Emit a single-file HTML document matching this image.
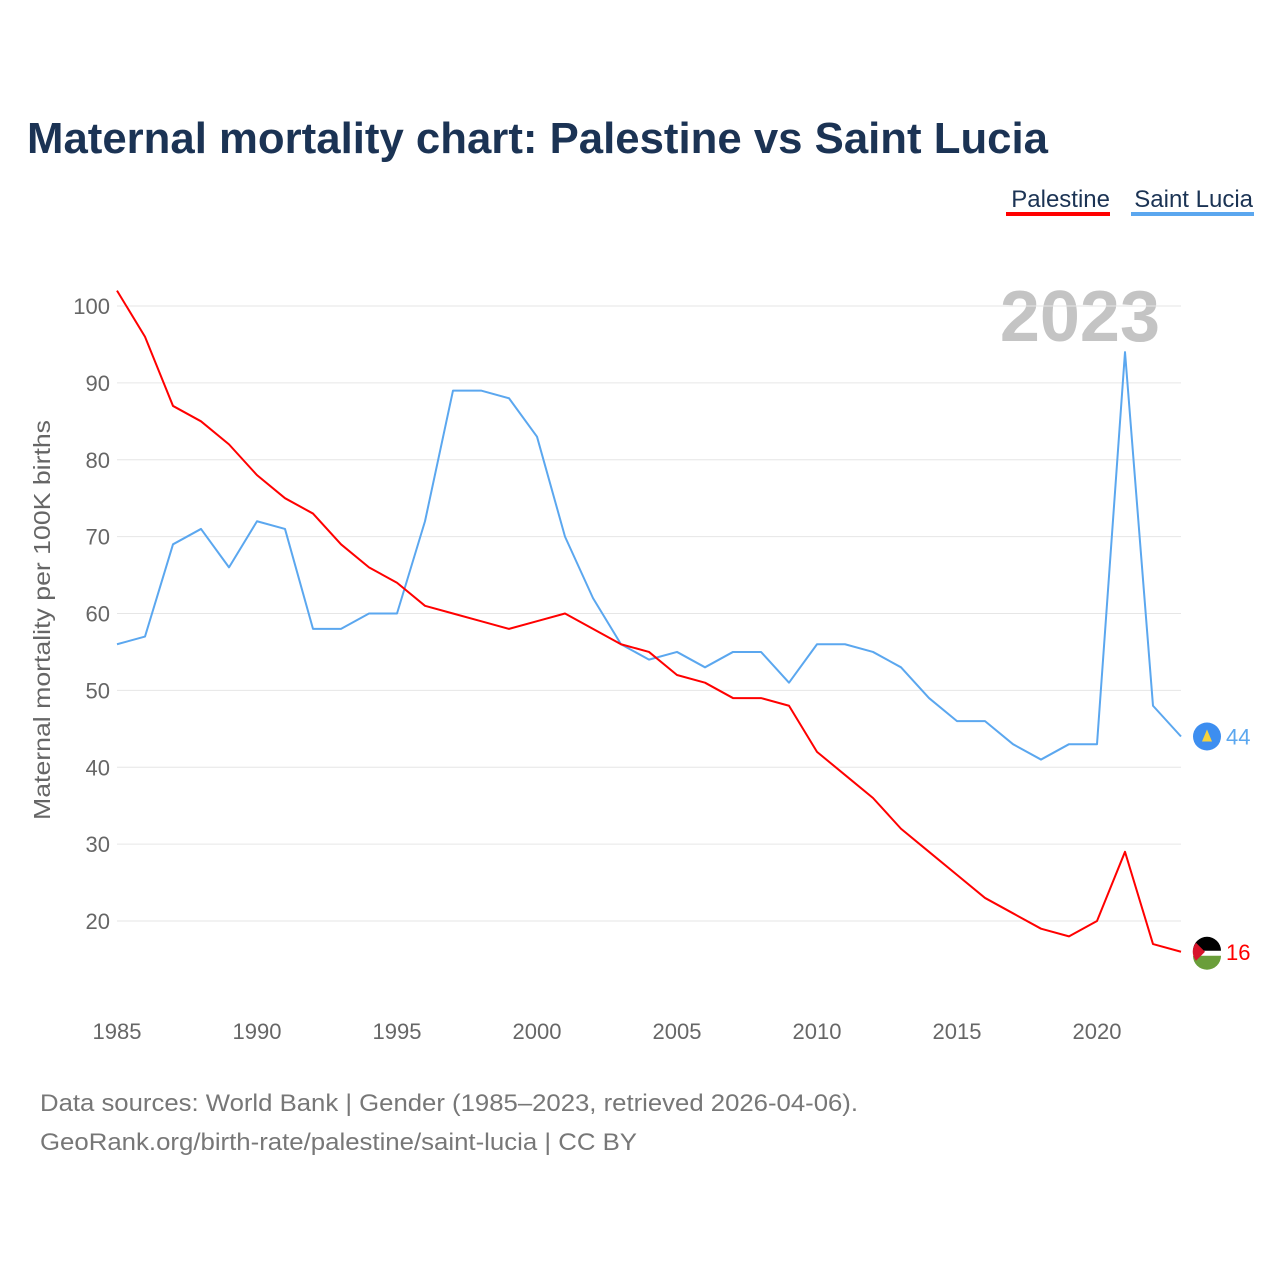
<!DOCTYPE html>
<html><head><meta charset="utf-8"><style>
body{margin:0;background:#fff;font-family:"Liberation Sans",sans-serif;}
#wrap{position:relative;width:1280px;height:1280px;overflow:hidden}
</style></head><body>
<div id="wrap">
<svg id="chart" width="1280" height="1280">
<text x="27" y="153" font-size="44" font-weight="bold" fill="#1b3354" textLength="1021" lengthAdjust="spacingAndGlyphs">Maternal mortality chart: Palestine vs Saint Lucia</text>
<g>
<text x="1110" y="207" font-size="24" fill="#1b3354" text-anchor="end">Palestine</text>
<rect x="1006" y="212" width="104" height="4" fill="#ff0000"/>
<text x="1253" y="207" font-size="24" fill="#1b3354" text-anchor="end">Saint Lucia</text>
<rect x="1131" y="212" width="123" height="4" fill="#5ba7ef"/>
</g>
<text x="1160" y="341" font-size="72" font-weight="bold" fill="#c4c4c4" text-anchor="end">2023</text>
<g id="grid"></g><g id="lines"></g>
<text transform="translate(50,620) rotate(-90)" font-size="23" fill="#666" text-anchor="middle" textLength="400" lengthAdjust="spacingAndGlyphs">Maternal mortality per 100K births</text>
<text x="40" y="1111" font-size="24" fill="#777" textLength="818" lengthAdjust="spacingAndGlyphs">Data sources: World Bank | Gender (1985–2023, retrieved 2026-04-06).</text>
<text x="40" y="1150" font-size="24" fill="#777" textLength="597" lengthAdjust="spacingAndGlyphs">GeoRank.org/birth-rate/palestine/saint-lucia | CC BY</text>
</svg></div>
<script>
const years=[];for(let y=1985;y<=2023;y++)years.push(y);
const palestine=[102,96,87,85,82,78,75,73,69,66,64,61,60,59,58,59,60,58,56,55,52,51,49,49,48,42,39,36,32,29,26,23,21,19,18,20,29,17,16];
const saintLucia=[56,57,69,71,66,72,71,58,58,60,60,72,89,89,88,83,70,62,56,54,55,53,55,55,51,56,56,55,53,49,46,46,43,41,43,43,94,48,44];
const yTicks=[20,30,40,50,60,70,80,90,100];
const xTicks=[1985,1990,1995,2000,2005,2010,2015,2020];
const X=y=>117+(y-1985)*28;
const Y=v=>921-(v-20)*7.6875;
const NS="http://www.w3.org/2000/svg";
const grid=document.getElementById('grid'),lines=document.getElementById('lines');
function mk(t,a,p){const e=document.createElementNS(NS,t);for(const k in a)e.setAttribute(k,a[k]);p.appendChild(e);return e;}
yTicks.forEach(v=>{
 const l=mk('line',{x1:117,x2:1181,y1:Y(v),y2:Y(v),stroke:'#e6e6e6','stroke-width':1},grid);
 
 
 const t=mk('text',{x:110,y:Y(v)+8,'font-size':22,fill:'#666','text-anchor':'end'},grid);t.textContent=v;
 
 
});
xTicks.forEach(v=>{
 const t=mk('text',{x:X(v),y:1039,'font-size':22,fill:'#666','text-anchor':'middle'},grid);t.textContent=v;
 
 
});
function series(vals,color,name){
 const p=mk('polyline',{points:vals.map((v,i)=>X(years[i])+','+Y(v)).join(' '),fill:'none',stroke:color,'stroke-width':2,'stroke-linejoin':'round'},lines);
 
 
 const last=vals[vals.length-1],lx=X(years[years.length-1]);
 const c=mk('circle',{cx:lx+26,cy:Y(last),r:14,fill:name==='palestine'?'#fff':'#3d8ef0'},lines);
 
 
 if(name==='palestine'){
  mk('path',{d:`M${lx+12},${Y(last)-1} a14,14 0 0 1 28,0 z`,fill:'#000'},lines);
  mk('path',{d:`M${lx+12},${Y(last)+4} a14,14 0 0 0 28,0 z`,fill:'#6a9e3a'},lines);
  mk('path',{d:`M${lx+15},${Y(last)-9} L${lx+24},${Y(last)} L${lx+15},${Y(last)+9} a14,14 0 0 1 0,-18 z`,fill:'#d7142a'},lines);
 }else{
  mk('path',{d:`M${lx+26},${Y(last)-7} L${lx+31},${Y(last)+5} L${lx+21},${Y(last)+5} z`,fill:'#f6d23c'},lines);
 }
 const t=mk('text',{x:lx+45,y:Y(last)+8,'font-size':22,fill:color},lines);t.textContent=last;
 
 
}
series(saintLucia,'#5ba7ef','saint-lucia');
series(palestine,'#ff0000','palestine');
</script>
</body></html>
